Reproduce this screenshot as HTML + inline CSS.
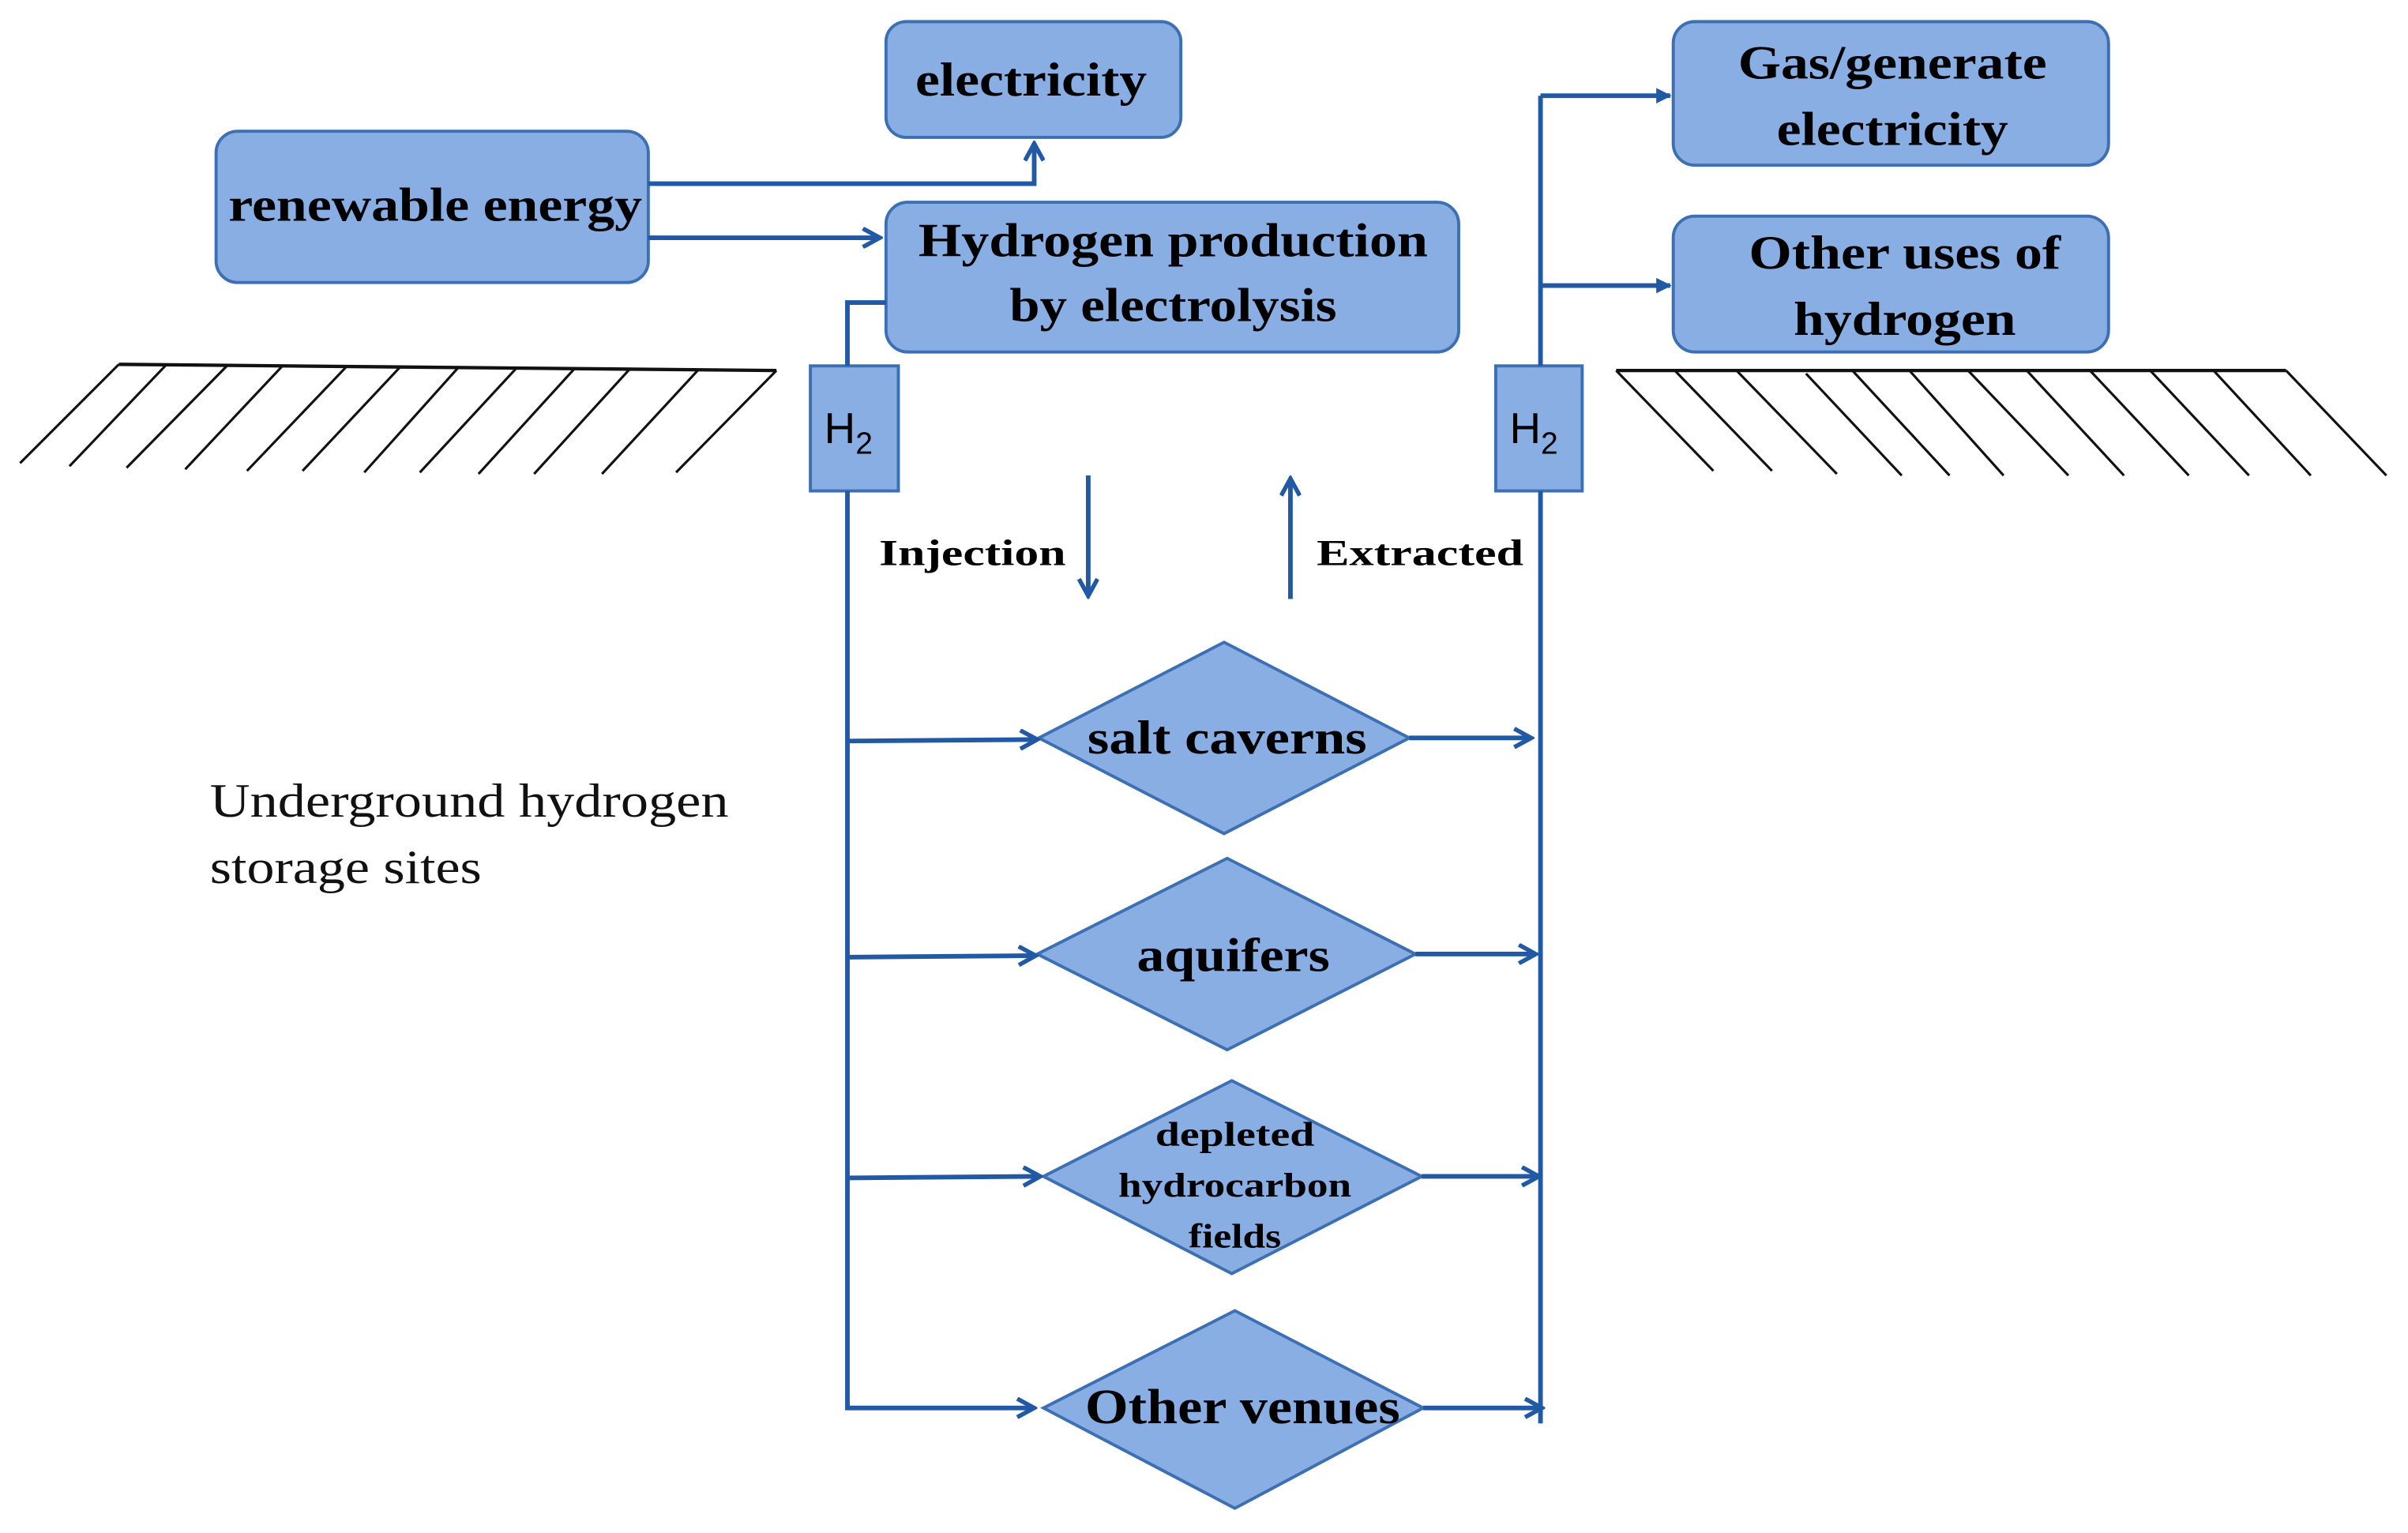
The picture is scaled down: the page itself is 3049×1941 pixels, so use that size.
<!DOCTYPE html>
<html><head><meta charset="utf-8"><style>
html,body{margin:0;padding:0;background:#fff;}
svg{display:block;}
</style></head><body>
<svg width="3049" height="1941" viewBox="0 0 1560 993" preserveAspectRatio="none" xmlns="http://www.w3.org/2000/svg">
<defs>
<marker id="a" markerWidth="14" markerHeight="14" refX="12" refY="7" orient="auto" markerUnits="userSpaceOnUse">
<path d="M1,1 L12,7 L1,13" fill="none" stroke="#2159a5" stroke-width="2.8"/>
</marker>
<marker id="t" markerWidth="10" markerHeight="10" refX="9" refY="5" orient="auto" markerUnits="userSpaceOnUse">
<path d="M0,0 L10,5 L0,10 Z" fill="#2159a5"/>
</marker>
</defs>
<g fill="#88aee3" stroke="#3d6fb3" stroke-width="2">
<rect x="574" y="14" width="191" height="75" rx="13"/>
<rect x="140" y="85" width="280" height="98" rx="14"/>
<rect x="574" y="131" width="371" height="97" rx="14"/>
<rect x="1084" y="14" width="282" height="93" rx="14"/>
<rect x="1084" y="140" width="282" height="88" rx="14"/>
<rect x="525" y="237" width="57" height="81"/>
<rect x="969" y="237" width="56" height="81"/>
<polygon points="673,478 793,416 913,478 793,540"/>
<polygon points="672,618 795,556 917,618 795,680"/>
<polygon points="676,762 798,700 921,762 798,825"/>
<polygon points="676,912 800,849 922,912 800,977"/>
</g>
<g fill="none" stroke="#2159a5" stroke-width="3">
<polyline points="420,119 670,119 670,93" marker-end="url(#a)"/>
<line x1="420" y1="154" x2="570" y2="154" marker-end="url(#a)"/>
<polyline points="574,196 549,196 549,237"/>
<polyline points="549,318 549,912 670,912" marker-end="url(#a)"/>
<line x1="549" y1="480" x2="672" y2="479" marker-end="url(#a)"/>
<line x1="549" y1="620" x2="671" y2="619" marker-end="url(#a)"/>
<line x1="549" y1="763" x2="674" y2="762" marker-end="url(#a)"/>
<line x1="913" y1="478" x2="992" y2="478" marker-end="url(#a)"/>
<line x1="917" y1="618" x2="995" y2="618" marker-end="url(#a)"/>
<line x1="921" y1="762" x2="997" y2="762" marker-end="url(#a)"/>
<line x1="922" y1="912" x2="999" y2="912" marker-end="url(#a)"/>
<line x1="998" y1="318" x2="998" y2="922"/>
<line x1="998" y1="237" x2="998" y2="62"/>
<line x1="998" y1="62" x2="1082" y2="62" marker-end="url(#t)"/>
<line x1="998" y1="185" x2="1082" y2="185" marker-end="url(#t)"/>
<line x1="705" y1="308" x2="705" y2="386" marker-end="url(#a)"/>
<line x1="836" y1="388" x2="836" y2="310" marker-end="url(#a)"/>
</g>
<g stroke="#111" stroke-width="1.6" fill="none">
<line x1="77" y1="236" x2="503" y2="240" stroke-width="2.2"/>
<line x1="77" y1="236" x2="13" y2="300"/>
<line x1="108" y1="236" x2="45" y2="302"/>
<line x1="147" y1="237" x2="82" y2="303"/>
<line x1="183" y1="237" x2="120" y2="304"/>
<line x1="224" y1="238" x2="160" y2="305"/>
<line x1="259" y1="238" x2="196" y2="305"/>
<line x1="297" y1="238" x2="236" y2="306"/>
<line x1="335" y1="238" x2="272" y2="306"/>
<line x1="372" y1="239" x2="310" y2="307"/>
<line x1="408" y1="239" x2="346" y2="307"/>
<line x1="452" y1="240" x2="390" y2="307"/>
<line x1="503" y1="240" x2="438" y2="306"/>
<line x1="1047" y1="240" x2="1481" y2="240" stroke-width="2.2"/>
<line x1="1047" y1="240" x2="1110" y2="305"/>
<line x1="1085" y1="240" x2="1148" y2="305"/>
<line x1="1125" y1="240" x2="1190" y2="307"/>
<line x1="1170" y1="242" x2="1232" y2="308"/>
<line x1="1200" y1="240" x2="1263" y2="308"/>
<line x1="1237" y1="240" x2="1298" y2="308"/>
<line x1="1275" y1="240" x2="1340" y2="308"/>
<line x1="1313" y1="240" x2="1376" y2="308"/>
<line x1="1354" y1="240" x2="1418" y2="308"/>
<line x1="1393" y1="240" x2="1457" y2="308"/>
<line x1="1434" y1="240" x2="1497" y2="308"/>
<line x1="1481" y1="240" x2="1546" y2="308"/>
</g>
<g font-family="Liberation Serif, serif" font-weight="bold" fill="#000" text-anchor="middle">
<text x="668" y="62" font-size="31" textLength="150" lengthAdjust="spacingAndGlyphs">electricity</text>
<text x="282" y="143" font-size="31" textLength="268" lengthAdjust="spacingAndGlyphs">renewable energy</text>
<text x="760" y="166" font-size="31" textLength="330" lengthAdjust="spacingAndGlyphs">Hydrogen production</text>
<text x="760" y="208" font-size="31" textLength="212" lengthAdjust="spacingAndGlyphs">by electrolysis</text>
<text x="1226" y="51" font-size="31" textLength="200" lengthAdjust="spacingAndGlyphs">Gas/generate</text>
<text x="1226" y="94" font-size="31" textLength="150" lengthAdjust="spacingAndGlyphs">electricity</text>
<text x="1234" y="174" font-size="31" textLength="202" lengthAdjust="spacingAndGlyphs">Other uses of</text>
<text x="1234" y="217" font-size="31" textLength="144" lengthAdjust="spacingAndGlyphs">hydrogen</text>
<text x="630" y="366" font-size="24" textLength="121" lengthAdjust="spacingAndGlyphs">Injection</text>
<text x="920" y="366" font-size="24" textLength="134" lengthAdjust="spacingAndGlyphs">Extracted</text>
<text x="795" y="488" font-size="31" textLength="181" lengthAdjust="spacingAndGlyphs">salt caverns</text>
<text x="799" y="629" font-size="31" textLength="125" lengthAdjust="spacingAndGlyphs">aquifers</text>
<text x="800" y="742" font-size="22" textLength="103" lengthAdjust="spacingAndGlyphs">depleted</text>
<text x="800" y="775" font-size="22" textLength="151" lengthAdjust="spacingAndGlyphs">hydrocarbon</text>
<text x="800" y="808" font-size="22" textLength="60" lengthAdjust="spacingAndGlyphs">fields</text>
<text x="805" y="922" font-size="32" textLength="204" lengthAdjust="spacingAndGlyphs">Other venues</text>
</g>
<g font-family="Liberation Sans, sans-serif" fill="#000">
<text x="534" y="287" font-size="28">H<tspan font-size="20" dy="7">2</tspan></text>
<text x="978" y="287" font-size="28">H<tspan font-size="20" dy="7">2</tspan></text>
</g>
<g font-family="Liberation Serif, serif" font-size="31" fill="#111">
<text x="136" y="529" textLength="336" lengthAdjust="spacingAndGlyphs">Underground hydrogen</text>
<text x="136" y="572" textLength="176" lengthAdjust="spacingAndGlyphs">storage sites</text>
</g>
</svg>
</body></html>
